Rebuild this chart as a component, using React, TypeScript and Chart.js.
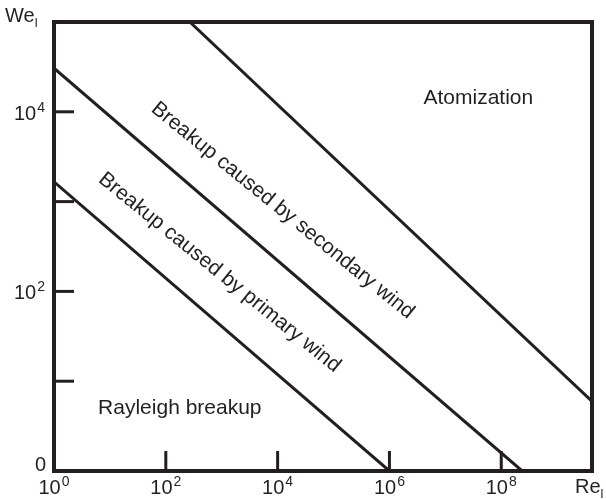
import { useEffect, useRef } from "react";
import { Chart, registerables } from "chart.js";

Chart.register(...registerables);

// Axis ranges and ticks
const xRange = [1, 4.2e9];
const yRange = [1, 1e5];
const xTickValues = [1, 1e2, 1e4, 1e6, 1e8];
const xTickExponents = ["0", "2", "4", "6", "8"];
const yTickValues = [1, 10, 1e2, 1e3, 1e4];
const yTickExponents = ["", "", "2", "", "4"];

// Boundary lines (Re_l, We_l)
const primaryWindX = [1, 1e6];
const primaryWindY = [1660, 1];
const secondaryWindX = [1, 2.37e8];
const secondaryWindY = [30600, 1];
const atomizationX = [269, 4.17e9];
const atomizationY = [1e5, 6.0];

// Region labels
const regionLabels = [
  "Breakup caused by primary wind",
  "Breakup caused by secondary wind",
  "Atomization",
  "Rayleigh breakup",
];
const regionX = [912, 12300, 3.89e7, 178];
const regionY = [162, 794, 14300, 5.0];
const regionAngle = [39, 39, 0, 0];

const INK = "#231f20";
const FONT = "'Liberation Sans', Arial, Helvetica, sans-serif";
const BASE_SIZE = 20;
const EXP_SIZE = 14;

function toPoints(xs: number[], ys: number[]) {
  return xs.map((x, i) => ({ x, y: ys[i] }));
}

// draws "10" with a raised exponent; anchor: "center" or "right"; baseline y given
function drawPower(ctx: any, exp: string, x: number, baseline: number, anchor: string) {
  ctx.font = `${BASE_SIZE}px ${FONT}`;
  const wb = ctx.measureText("10").width;
  ctx.font = `${EXP_SIZE}px ${FONT}`;
  const we = ctx.measureText(exp).width;
  const total = wb + we + 1;
  const left = anchor === "center" ? x - total / 2 : x - total;
  ctx.textAlign = "left";
  ctx.textBaseline = "alphabetic";
  ctx.font = `${BASE_SIZE}px ${FONT}`;
  ctx.fillText("10", left, baseline);
  ctx.font = `${EXP_SIZE}px ${FONT}`;
  ctx.fillText(exp, left + wb + 1, baseline - 8);
}

const framePlugin = {
  id: "framePlugin",
  afterDatasetsDraw(chart: any) {
    const { ctx, chartArea: a, scales } = chart;
    const xs = scales.x;
    const ys = scales.y;
    ctx.save();
    // inward tick marks
    ctx.strokeStyle = INK;
    ctx.lineWidth = 3;
    ctx.lineCap = "butt";
    xTickValues.forEach((v) => {
      if (v === xRange[0]) return;
      const px = xs.getPixelForValue(v);
      ctx.beginPath();
      ctx.moveTo(px, a.bottom);
      ctx.lineTo(px, a.bottom - 20);
      ctx.stroke();
    });
    yTickValues.forEach((v) => {
      if (v === yRange[0]) return;
      const py = ys.getPixelForValue(v);
      ctx.beginPath();
      ctx.moveTo(a.left, py);
      ctx.lineTo(a.left + 20, py);
      ctx.stroke();
    });
    // frame
    ctx.lineWidth = 4;
    ctx.strokeRect(a.left, a.top, a.right - a.left, a.bottom - a.top);

    ctx.fillStyle = INK;

    // tick labels
    xTickValues.forEach((v, i) => {
      drawPower(ctx, xTickExponents[i], xs.getPixelForValue(v), a.bottom + 23, "center");
    });
    yTickValues.forEach((v, i) => {
      if (!yTickExponents[i]) return;
      drawPower(ctx, yTickExponents[i], a.left - 9, ys.getPixelForValue(v) + 8, "right");
    });

    // region labels
    ctx.font = `21px ${FONT}`;
    ctx.textAlign = "center";
    ctx.textBaseline = "middle";
    regionLabels.forEach((t, i) => {
      const px = xs.getPixelForValue(regionX[i]);
      const py = ys.getPixelForValue(regionY[i]);
      ctx.save();
      ctx.translate(px, py);
      ctx.rotate((regionAngle[i] * Math.PI) / 180);
      ctx.fillText(t, 0, 0);
      ctx.restore();
    });

    // axis titles with subscripts and the "0" label
    ctx.textAlign = "left";
    ctx.textBaseline = "alphabetic";
    ctx.font = `20px ${FONT}`;
    ctx.fillText("We", 5, 22);
    let w = ctx.measureText("We").width;
    ctx.font = `13px ${FONT}`;
    ctx.fillText("l", 5 + w, 27);

    ctx.font = `20px ${FONT}`;
    ctx.fillText("Re", 575, 493);
    w = ctx.measureText("Re").width;
    ctx.font = `13px ${FONT}`;
    ctx.fillText("l", 575 + w, 498);

    ctx.font = `20px ${FONT}`;
    ctx.textAlign = "right";
    ctx.fillText("0", a.left - 8, a.bottom);
    ctx.restore();
  },
};

export default function App() {
  const ref = useRef<HTMLCanvasElement | null>(null);
  useEffect(() => {
    if (!ref.current) return;
    const lineStyle = {
      showLine: true,
      borderColor: INK,
      borderWidth: 3,
      pointRadius: 0,
      fill: false,
    };
    const chart = new Chart(ref.current, {
      type: "scatter",
      data: {
        datasets: [
          { label: "primary", data: toPoints(primaryWindX, primaryWindY), ...lineStyle },
          { label: "secondary", data: toPoints(secondaryWindX, secondaryWindY), ...lineStyle },
          { label: "atomization", data: toPoints(atomizationX, atomizationY), ...lineStyle },
        ],
      },
      options: {
        animation: false,
        responsive: false,
        devicePixelRatio: 1,
        layout: { padding: { top: 22, right: 14, left: 0, bottom: 0 } },
        plugins: { legend: { display: false }, tooltip: { enabled: false } },
        scales: {
          x: {
            type: "logarithmic",
            min: xRange[0],
            max: xRange[1],
            border: { display: false },
            grid: { display: false, drawTicks: false },
            afterBuildTicks: (s: any) => {
              s.ticks = xTickValues.map((v) => ({ value: v }));
            },
            afterFit: (s: any) => {
              s.height = 28;
            },
            ticks: { display: false },
          },
          y: {
            type: "logarithmic",
            min: yRange[0],
            max: yRange[1],
            border: { display: false },
            grid: { display: false, drawTicks: false },
            afterBuildTicks: (s: any) => {
              s.ticks = yTickValues.map((v) => ({ value: v }));
            },
            afterFit: (s: any) => {
              s.width = 54;
            },
            ticks: { display: false },
          },
        },
      },
      plugins: [framePlugin],
    });
    return () => chart.destroy();
  }, []);
  return (
    <div style={{ position: "fixed", left: 0, top: 0, width: 606, height: 499, background: "#fff" }}>
      <canvas ref={ref} width={606} height={499} style={{ display: "block" }} />
    </div>
  );
}
